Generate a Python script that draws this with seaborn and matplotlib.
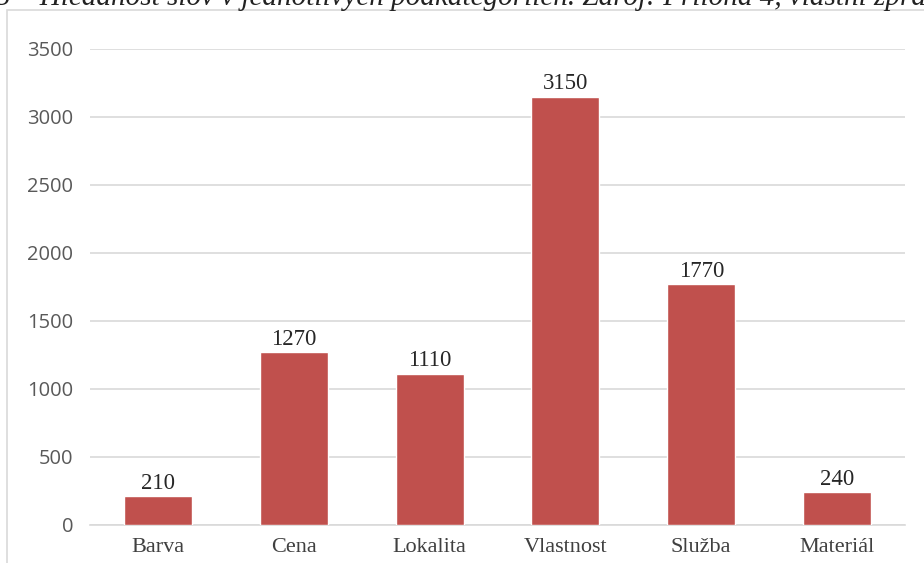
import matplotlib
matplotlib.use("Agg")
import matplotlib.pyplot as plt
import seaborn as sns
import pandas as pd
from matplotlib.patches import Rectangle

# Search volume per subcategory
categories = ["Barva", "Cena", "Lokalita", "Vlastnost", "Služba", "Materiál"]
values = [210, 1270, 1110, 3150, 1770, 240]
y_ticks = [0, 500, 1000, 1500, 2000, 2500, 3000, 3500]

caption = ("5 – Hledanost slov v jednotlivých podkategoriích. "
           "Zdroj: Příloha 4, vlastní zpracování")

df = pd.DataFrame({"kategorie": categories, "hledanost": values})

sns.set_theme(style="white")
plt.rcParams["font.family"] = ["DejaVu Sans"]

W, H = 924, 563
fig = plt.figure(figsize=(W / 100, H / 100), dpi=100)
fig.patch.set_facecolor("white")

# chart frame
fig.patches.append(Rectangle((7 / W, -0.05), 2, 1 - 10 / H + 0.05,
                             transform=fig.transFigure, fill=False,
                             edgecolor="#d9d9d9", linewidth=1.2))

ax = fig.add_axes([90 / W, 1 - 525 / H, (905 - 90) / W, (525 - 49) / H])

sns.barplot(data=df, x="kategorie", y="hledanost", color="#C0504D",
            saturation=1, width=0.5, ax=ax, zorder=3)

ax.set_ylim(0, 3500)
ax.set_yticks(y_ticks)
ax.set_yticklabels([str(t) for t in y_ticks], family="Open Sans",
                   fontsize=14.5, color="#595959")
ax.set_xticks(range(len(categories)))
ax.set_xticklabels(categories, family="Liberation Serif", fontsize=16,
                   color="#404040")
ax.tick_params(axis="both", length=0)
ax.tick_params(axis="y", pad=12)
ax.tick_params(axis="x", pad=9)
ax.set_xlabel("")
ax.set_ylabel("")

ax.grid(axis="y", color="#d9d9d9", linewidth=1.2, zorder=0)
ax.set_axisbelow(True)
for side in ["top", "right", "left"]:
    ax.spines[side].set_visible(False)
ax.spines["bottom"].set_color("#d9d9d9")
ax.spines["bottom"].set_linewidth(1.2)

for container in ax.containers:
    ax.bar_label(container, labels=[str(v) for v in values], padding=2,
                 family="Liberation Serif", fontsize=16.5, color="#262626")

fig.text(-4 / W, 1 - 5 / H, caption, family="Liberation Serif",
         style="italic", fontsize=21, color="#222222",
         ha="left", va="baseline")

fig.savefig("out.png", dpi=100)
